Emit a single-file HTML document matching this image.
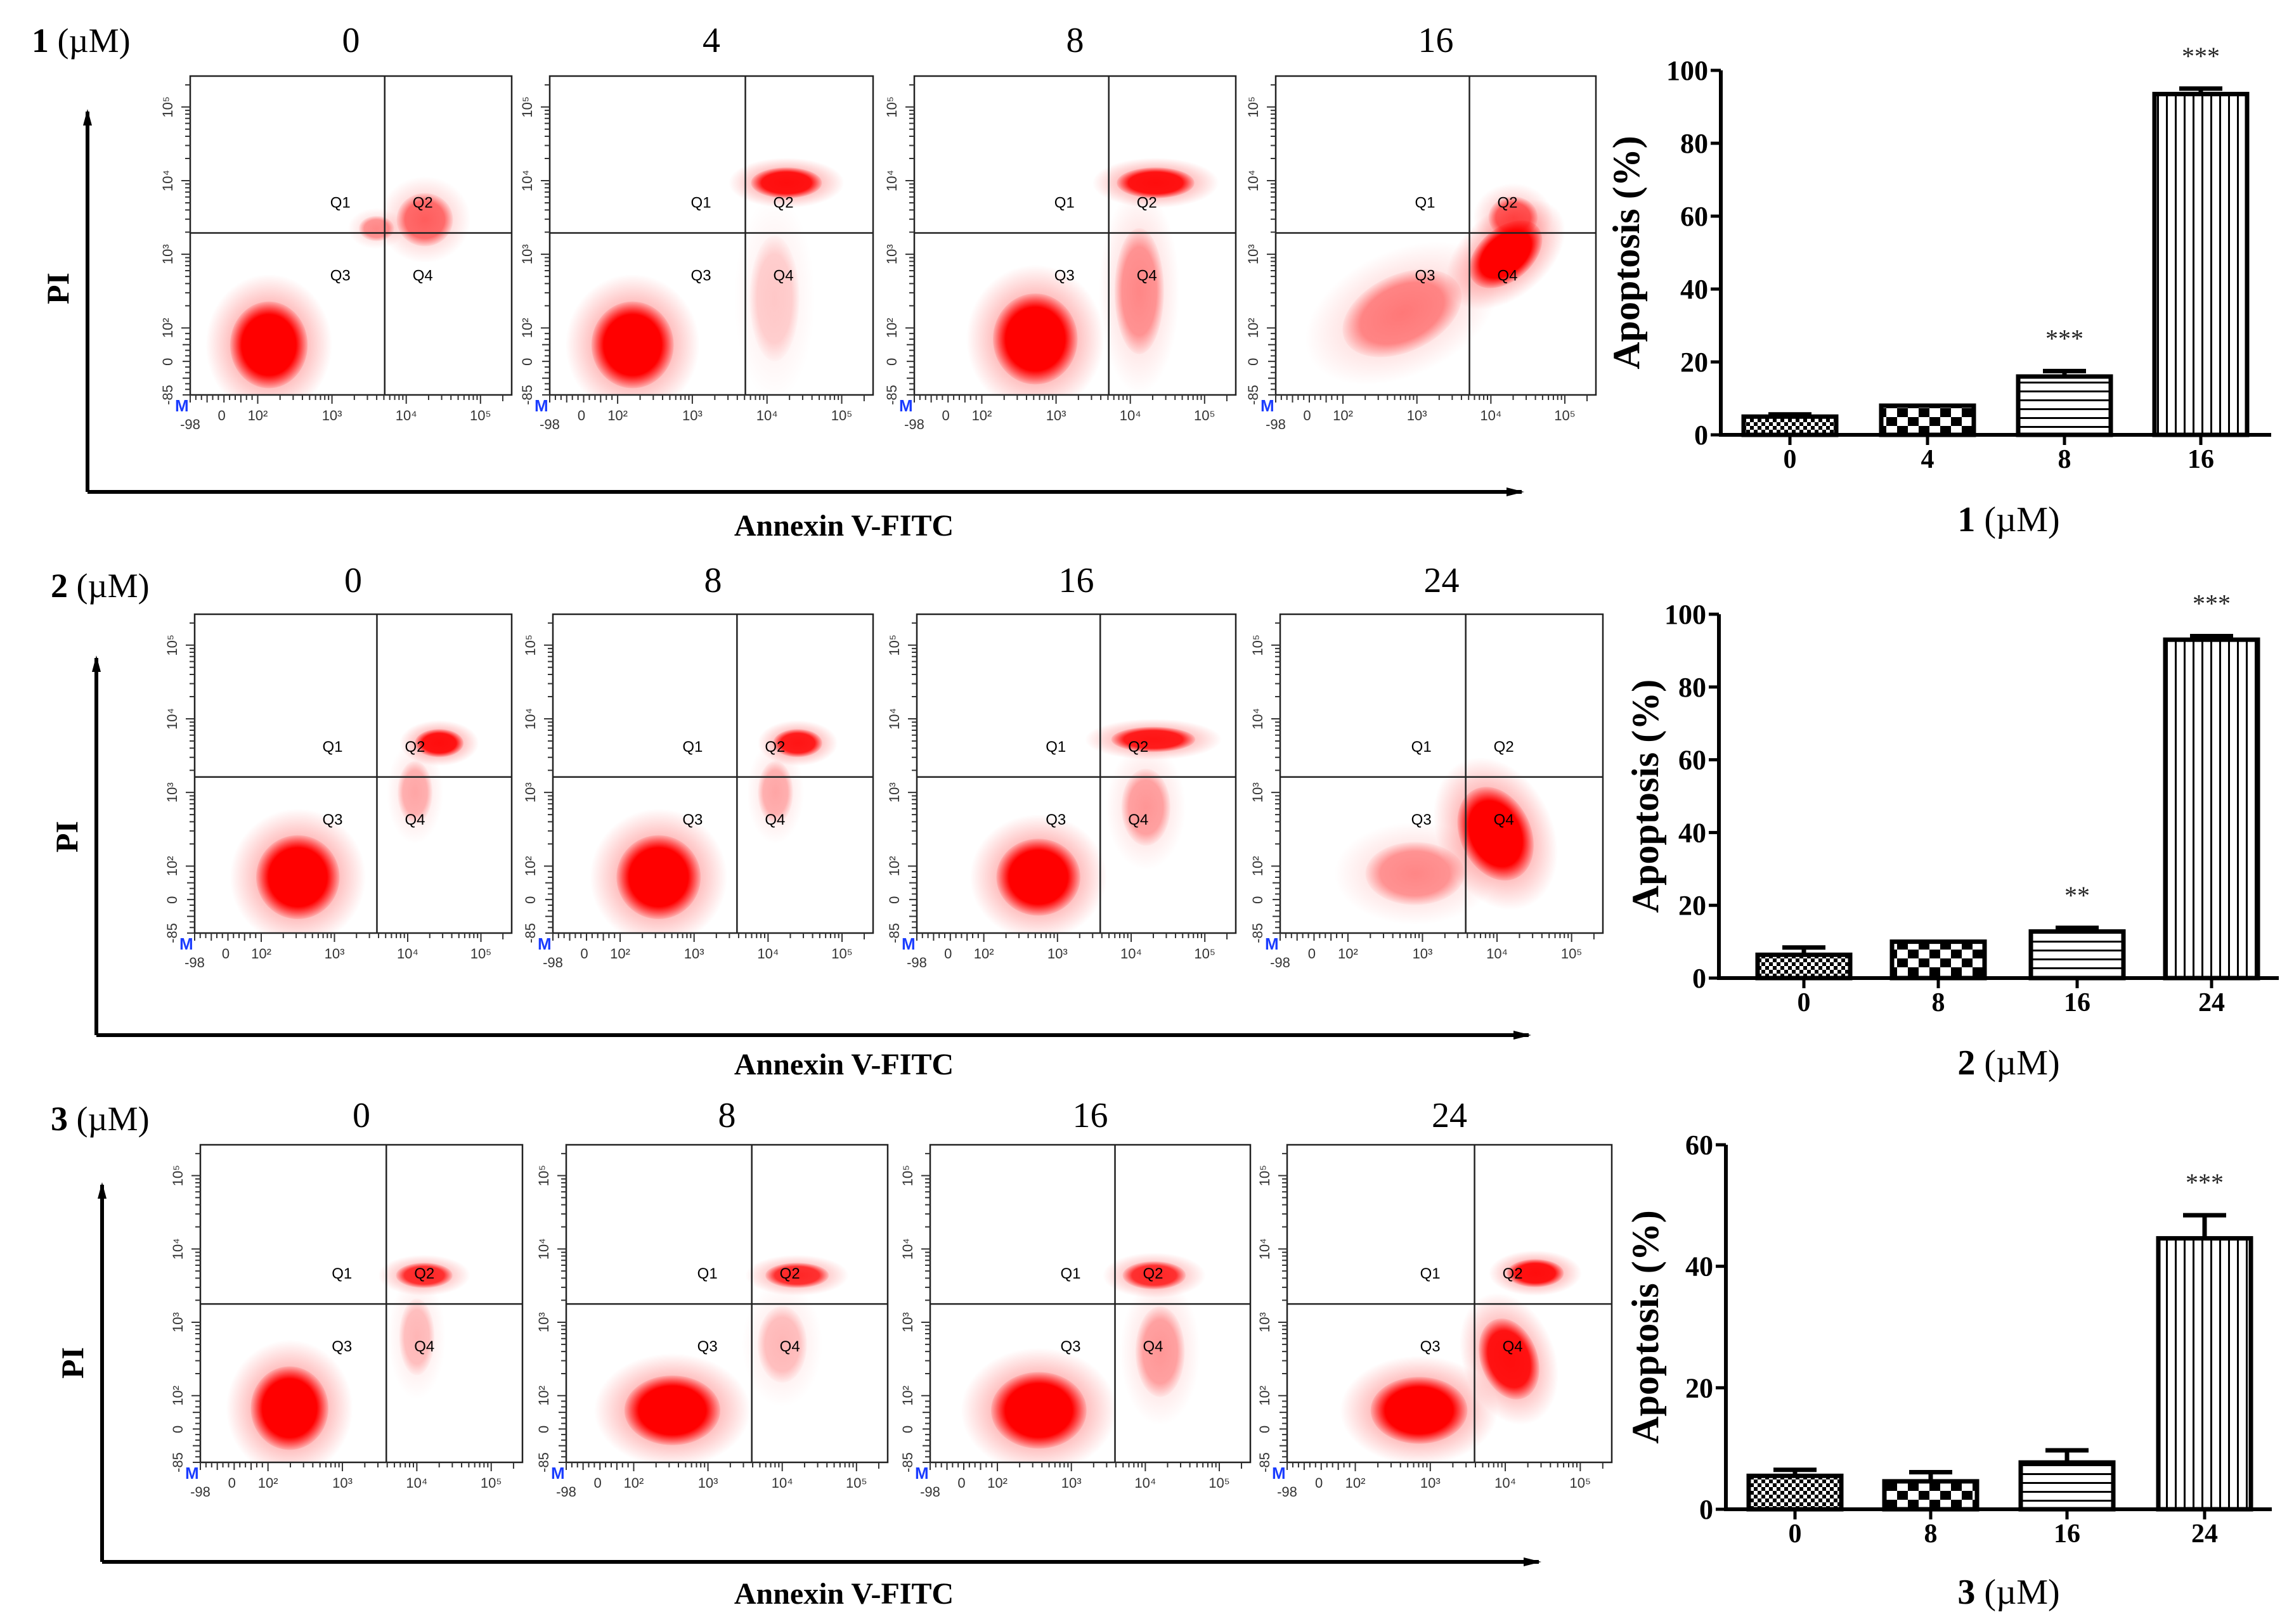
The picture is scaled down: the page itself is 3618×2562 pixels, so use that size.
<!DOCTYPE html>
<html><head><meta charset="utf-8">
<style>
html,body{margin:0;padding:0;background:#fff;}
svg{display:block;}
text{font-family:"Liberation Serif",serif;}
.sans{font-family:"Liberation Sans",sans-serif;}
</style></head>
<body>
<svg id="fig" width="3618" height="2562" viewBox="0 0 3618 2562" xmlns="http://www.w3.org/2000/svg">
<defs>
<radialGradient id="blob"><stop offset="0" stop-color="#ff0000" stop-opacity="1"/><stop offset="0.7" stop-color="#ff0000" stop-opacity="1"/><stop offset="1" stop-color="#ff0000" stop-opacity="0.1"/></radialGradient>
<radialGradient id="haze"><stop offset="0" stop-color="#ff0000" stop-opacity="0.55"/><stop offset="0.6" stop-color="#ff0000" stop-opacity="0.25"/><stop offset="1" stop-color="#ff0000" stop-opacity="0"/></radialGradient>
<pattern id="pat0" width="12" height="12" patternUnits="userSpaceOnUse"><rect width="12" height="12" fill="#fff"/><rect width="6" height="6" fill="#000"/><rect x="6" y="6" width="6" height="6" fill="#000"/></pattern>
<pattern id="pat1" width="34" height="28" patternUnits="userSpaceOnUse"><rect width="34" height="28" fill="#fff"/><rect width="17" height="14" fill="#000"/><rect x="17" y="14" width="17" height="14" fill="#000"/></pattern>
<pattern id="pat2" width="10" height="14" patternUnits="userSpaceOnUse"><rect width="10" height="14" fill="#fff"/><rect y="0" width="10" height="3" fill="#000"/></pattern>
<pattern id="pat3" width="14" height="10" patternUnits="userSpaceOnUse"><rect width="14" height="10" fill="#fff"/><rect x="0" width="3" height="10" fill="#000"/></pattern>
</defs>
</svg>
<script>
// ---------- data ----------
const rowCompounds = ["1","2","3"];
const rowConcs = [["0","4","8","16"],["0","8","16","24"],["0","8","16","24"]];
// quadrant gates per row [xlog, ylog]
const rowGates = [[3.71,3.29],[3.58,3.21],[3.59,3.25]];
// clusters per panel: [xlog, ylog, spreadX, spreadY, density(0-1), rotationDeg]
const clusters1_0 = [[2.15,1.77,0.55,0.62,1,0],[4.25,3.47,0.4,0.38,0.5,0],[3.6,3.35,0.25,0.18,0.35,0]];
const clusters1_4 = [[2.2,1.77,0.58,0.62,1,0],[4.26,3.97,0.5,0.22,0.9,0],[4.1,2.4,0.35,0.9,0.15,0]];
const clusters1_8 = [[2.72,1.85,0.6,0.65,1,0],[4.34,3.97,0.55,0.22,0.9,0],[4.12,2.5,0.35,0.9,0.35,0]];
const clusters1_16 = [[4.2,3.0,0.6,0.38,1,-40],[2.8,2.2,0.9,0.55,0.4,-25],[4.3,3.5,0.35,0.3,0.55,0]];
const clusters2_0 = [[2.5,1.85,0.6,0.6,1,0],[4.43,3.67,0.35,0.2,0.9,0],[4.1,3.0,0.25,0.45,0.25,0]];
const clusters2_8 = [[2.52,1.85,0.6,0.6,1,0],[4.4,3.67,0.35,0.2,0.85,0],[4.1,3.0,0.25,0.45,0.25,0]];
const clusters2_16 = [[2.74,1.85,0.6,0.55,1,0],[4.3,3.72,0.6,0.18,0.85,0],[4.2,2.8,0.35,0.55,0.3,0]];
const clusters2_24 = [[3.98,2.44,0.5,0.7,1,-25],[2.9,1.9,0.7,0.45,0.35,0]];
const clusters3_0 = [[2.29,1.83,0.55,0.6,1,0],[4.1,3.64,0.4,0.18,0.75,0],[4.0,2.8,0.25,0.55,0.2,0]];
const clusters3_8 = [[2.52,1.8,0.68,0.5,1,0],[4.2,3.64,0.45,0.18,0.75,0],[4.0,2.7,0.35,0.55,0.2,0]];
const clusters3_16 = [[2.56,1.8,0.68,0.55,1,0],[4.12,3.64,0.45,0.2,0.75,0],[4.2,2.6,0.35,0.65,0.3,0]];
const clusters3_24 = [[2.85,1.8,0.68,0.48,1,0],[4.4,3.67,0.4,0.2,0.9,0],[4.05,2.5,0.4,0.6,0.9,-20]];
const panelClusters = [[clusters1_0,clusters1_4,clusters1_8,clusters1_16],[clusters2_0,clusters2_8,clusters2_16,clusters2_24],[clusters3_0,clusters3_8,clusters3_16,clusters3_24]];

// bar chart data
const barCats1 = ["0","4","8","16"], barVals1 = [5,8,16,93.5], barErr1 = [0.6,0,1.5,1.5], barStars1 = ["","","***","***"];
const barCats2 = ["0","8","16","24"], barVals2 = [6.4,10,12.8,93], barErr2 = [2,0,1,1], barStars2 = ["","","**","***"];
const barCats3 = ["0","8","16","24"], barVals3 = [5.5,4.6,7.7,44.6], barErr3 = [1,1.5,2,3.8], barStars3 = ["","","","***"];
const yTicks1 = [0,20,40,60,80,100], yTicks2 = [0,20,40,60,80,100], yTicks3 = [0,20,40,60];

// ---------- layout ----------
const svg = document.getElementById('fig');
const NS = "http://www.w3.org/2000/svg";
function mk(tag, attrs, parent){ const e=document.createElementNS(NS,tag); for(const k in attrs) e.setAttribute(k,attrs[k]); (parent||svg).appendChild(e); return e; }

const rowLayout = [
 {boxes:[[300,120,807,623],[867,120,1377,623],[1442,120,1949,623],[2012,120,2517,623]], titleY:82, labelX:50, labelY:82, arrowX:138, arrowTop:176, arrowBot:776, arrowRight:2400, annexY:845, piY:455},
 {boxes:[[307,969,807,1472],[872,969,1377,1472],[1446,969,1949,1472],[2019,969,2528,1472]], titleY:934, labelX:80, labelY:942, arrowX:152, arrowTop:1038, arrowBot:1633, arrowRight:2411, annexY:1695, piY:1320},
 {boxes:[[316,1806,824,2307],[893,1806,1400,2307],[1467,1806,1972,2307],[2030,1806,2542,2307]], titleY:1778, labelX:80, labelY:1783, arrowX:161, arrowTop:1869, arrowBot:2464, arrowRight:2427, annexY:2530, piY:2150}
];
function frac(lg){ return 0.21 + (lg-2)*0.231; }

rowLayout.forEach((R, ri)=>{
  const g = mk('g',{});
  
  
  const t = mk('text',{x:R.labelX,y:R.labelY,'font-size':54},g);
  
  
  const b = mk('tspan',{'font-weight':'bold'},t); b.textContent = rowCompounds[ri];
  const n = mk('tspan',{},t); n.textContent = ' (\u00B5M)';
  const ax = mk('path',{d:`M${R.arrowX} ${R.arrowBot} L${R.arrowX} ${R.arrowTop} M${R.arrowX} ${R.arrowBot} L${R.arrowRight} ${R.arrowBot}`,stroke:'#000','stroke-width':6,fill:'none'},g);
  
  
  mk('path',{d:`M${R.arrowX-7} ${R.arrowTop+22} L${R.arrowX} ${R.arrowTop-4} L${R.arrowX+7} ${R.arrowTop+22} Z`,fill:'#000'},g);
  mk('path',{d:`M${R.arrowRight-24} ${R.arrowBot-7} L${R.arrowRight+4} ${R.arrowBot} L${R.arrowRight-24} ${R.arrowBot+7} Z`,fill:'#000'},g);
  const pi = mk('text',{x:0,y:0,'font-size':50,'font-weight':'bold','text-anchor':'middle',transform:`translate(${R.arrowX-30},${R.piY}) rotate(-90)`},g);
  pi.textContent='PI';
  
  
  const an = mk('text',{x:1331,y:R.annexY,'font-size':48,'font-weight':'bold','text-anchor':'middle'},g);
  an.textContent='Annexin V-FITC';
  
  

  R.boxes.forEach((bx, pi2)=>{
    const [x0,y0,x1,y1] = bx, W=x1-x0, H=y1-y0;
    const X = lg => x0 + frac(lg)*W, Y = lg => y1 - frac(lg)*H;
    const pg = mk('g',{},g);
    
    
    const tt = mk('text',{x:(x0+x1)/2,y:R.titleY,'font-size':56,'text-anchor':'middle'},pg);
    tt.textContent = rowConcs[ri][pi2];
    
    
    const clip = mk('clipPath',{id:`c${ri}${pi2}`},pg); mk('rect',{x:x0,y:y0,width:W,height:H},clip);
    const cg = mk('g',{'clip-path':`url(#c${ri}${pi2})`},pg);
    panelClusters[ri][pi2].forEach(c=>{
      const cx=X(c[0]), cy=Y(c[1]), rx=c[2]*0.231*W, ry=c[3]*0.231*H;
      const h = mk('ellipse',{cx,cy,rx:rx*1.55,ry:ry*1.55,fill:'url(#haze)',opacity:c[4],transform:`rotate(${c[5]} ${cx} ${cy})`},cg);
      
      
      const e = mk('ellipse',{cx,cy,rx:rx*0.95,ry:ry*0.95,fill:'url(#blob)',opacity:c[4],transform:`rotate(${c[5]} ${cx} ${cy})`},cg);
      
      
    });
    const box = mk('rect',{x:x0,y:y0,width:W,height:H,fill:'none',stroke:'#222','stroke-width':2.5},pg);
    
    
    const gx = X(rowGates[ri][0]), gy = Y(rowGates[ri][1]);
    mk('path',{d:`M${gx} ${y0} L${gx} ${y1} M${x0} ${gy} L${x1} ${gy}`,stroke:'#222','stroke-width':2.5},pg);
    [['Q1',-70,-40],['Q2',60,-40],['Q3',-70,75],['Q4',60,75]].forEach(q=>{
      const qt = mk('text',{x:gx+q[1],y:gy+q[2],'font-size':24,'text-anchor':'middle',class:'sans'},pg);
      qt.textContent=q[0];
      
      
    });
    let d='';
    for(let dec=2;dec<5;dec++) for(let m=1;m<10;m++){ const lg=dec+Math.log10(m); const xx=X(lg), yy=Y(lg); const L=(m==1)?14:8;
      d+=`M${xx} ${y1} L${xx} ${y1+L} M${x0} ${yy} L${x0-L} ${yy} `; }
    [5].forEach(lg=>{ d+=`M${X(lg)} ${y1} L${X(lg)} ${y1+14} M${x0} ${Y(lg)} L${x0-14} ${Y(lg)} `; });
    d+=`M${X(5.3)} ${y1} L${X(5.3)} ${y1+10} M${x0} ${Y(5.3)} L${x0-8} ${Y(5.3)} `;
    for(let k=0;k<12;k++){ const f=k/12*0.21; d+=`M${x0+f*W} ${y1} L${x0+f*W} ${y1+(k%3==0?12:8)} M${x0} ${y1-f*H} L${x0-(k%3==0?12:8)} ${y1-f*H} `; }
    mk('path',{d,stroke:'#333','stroke-width':2,fill:'none'},pg);
    const xl = [["-98",x0,y1+54],["0",x0+0.098*W,y1+40],["10²",X(2),y1+40],["10³",X(3),y1+40],["10⁴",X(4),y1+40],["10⁵",X(5),y1+40]];
    xl.forEach(l=>{ const tx=mk('text',{x:l[1],y:l[2],'font-size':22,'text-anchor':'middle',class:'sans',fill:'#333'},pg); tx.textContent=l[0];
        });
    const yl = [["-85",y1],["0",y1-0.104*H],["10²",Y(2)],["10³",Y(3)],["10⁴",Y(4)],["10⁵",Y(5)]];
    yl.forEach(l=>{ const tx=mk('text',{x:0,y:0,'font-size':22,'text-anchor':'middle',class:'sans',fill:'#333',transform:`translate(${x0-28},${l[1]}) rotate(-90)`},pg); tx.textContent=l[0];
        });
    const M = mk('text',{x:x0-24,y:y1+26,'font-size':26,'font-weight':'bold',fill:'#1a3cff',class:'sans'},pg); M.textContent='M';
     
  });
});

// ---------- bar charts ----------
const barCharts = [
 {cats:barCats1,vals:barVals1,err:barErr1,stars:barStars1,ticks:yTicks1,max:100,ax:2714,top:111,bot:686,right:3582,centers:[2823,3040,3256,3471],labX:2565,title:'1',titleY:838},
 {cats:barCats2,vals:barVals2,err:barErr2,stars:barStars2,ticks:yTicks2,max:100,ax:2711,top:969,bot:1543,right:3594,centers:[2845,3057,3276,3488],labX:2595,title:'2',titleY:1695},
 {cats:barCats3,vals:barVals3,err:barErr3,stars:barStars3,ticks:yTicks3,max:60,ax:2722,top:1806,bot:2381,right:3583,centers:[2831,3045,3260,3477],labX:2595,title:'3',titleY:2530}
];
barCharts.forEach((C,ci)=>{
  const g = mk('g',{});
  
  
  const Y = v => C.bot - v/C.max*(C.bot-C.top);
  const bw = 146;
  C.vals.forEach((v,i)=>{
    const cx=C.centers[i];
    if(C.err[i]>0){ mk('path',{d:`M${cx} ${Y(v)} L${cx} ${Y(v+C.err[i])} M${cx-34} ${Y(v+C.err[i])} L${cx+34} ${Y(v+C.err[i])}`,stroke:'#000','stroke-width':7},g); }
    const r = mk('rect',{x:cx-bw/2,y:Y(v),width:bw,height:C.bot-Y(v),fill:`url(#pat${i})`,stroke:'#000','stroke-width':7},g);
    
    
    if(C.stars[i]){ const s=mk('text',{x:cx,y:Y(v+C.err[i])-38,'font-size':40,'text-anchor':'middle',fill:'#222'},g); s.textContent=C.stars[i];
        }
    const l=mk('text',{x:cx,y:C.bot+52,'font-size':42,'font-weight':'bold','text-anchor':'middle'},g); l.textContent=C.cats[i];
     
    mk('line',{x1:cx,y1:C.bot,x2:cx,y2:C.bot+16,stroke:'#000','stroke-width':5},g);
  });
  mk('path',{d:`M${C.ax} ${C.top} L${C.ax} ${C.bot} L${C.right} ${C.bot}`,stroke:'#000','stroke-width':6,fill:'none'},g);
  C.ticks.forEach(t=>{
    mk('line',{x1:C.ax-16,y1:Y(t),x2:C.ax,y2:Y(t),stroke:'#000','stroke-width':5},g);
    const l=mk('text',{x:C.ax-20,y:Y(t)+15,'font-size':44,'font-weight':'bold','text-anchor':'end'},g); l.textContent=t;
     
  });
  const yl = mk('text',{x:0,y:0,'font-size':60,'font-weight':'bold','text-anchor':'middle',transform:`translate(${C.labX+20},${(C.top+C.bot)/2}) rotate(-90)`},g);
  yl.textContent='Apoptosis (%)';
   
  const tt = mk('text',{x:3168,y:C.titleY,'font-size':56,'text-anchor':'middle'},g);
   
  const b=mk('tspan',{'font-weight':'bold'},tt); b.textContent=C.title;
  const n=mk('tspan',{},tt); n.textContent=' (\u00B5M)';
});
</script>
</body></html>
